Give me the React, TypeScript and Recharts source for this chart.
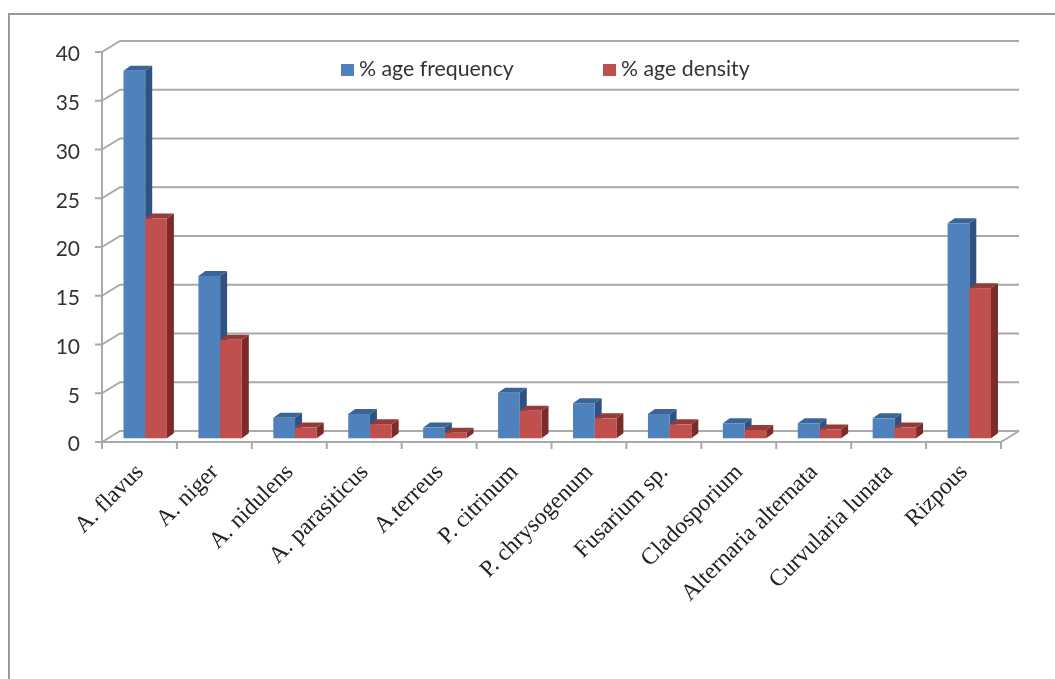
import React from "react";
import { BarChart, Bar, XAxis, YAxis, CartesianGrid, Legend } from "recharts";

const categories = ["A. flavus", "A. niger", "A. nidulens", "A. parasiticus", "A.terreus", "P. citrinum", "P. chrysogenum", "Fusarium sp.", "Cladosporium", "Alternaria alternata", "Curvularia lunata", "Rizpous"];
const frequency = [37.7, 16.65, 2.1, 2.5, 1.1, 4.68, 3.6, 2.5, 1.54, 1.54, 2.05, 22.05];
const density = [22.55, 10.1, 1.1, 1.45, 0.57, 2.83, 2.05, 1.43, 0.85, 0.9, 1.1, 15.4];
const yTicks = [0, 5, 10, 15, 20, 25, 30, 35, 40];

const data = categories.map((name, i) => ({ name, frequency: frequency[i], density: density[i] }));

// offset of the back wall from the front of the axis box
const WALL_X = 18;
const WALL_Y = 11;
// bars stand in the middle of the floor
const BAR_X = 5.5;
const BAR_Y = 3.7;
const DEPTH_X = 7;
const DEPTH_Y = 5;
const AXIS_COLOR = "#a9a9a9";

function makeBar(front: string, top: string, side: string) {
    return function Bar3D(props: any) {
        const x = props.x + BAR_X;
        const y = props.y - BAR_Y;
        const w = props.width;
        const h = props.height;
        return (
            <g>
                <polygon points={`${x},${y} ${x + DEPTH_X},${y - DEPTH_Y} ${x + w + DEPTH_X},${y - DEPTH_Y} ${x + w},${y}`} fill={top} />
                <polygon points={`${x + w},${y} ${x + w + DEPTH_X},${y - DEPTH_Y} ${x + w + DEPTH_X},${y + h - DEPTH_Y} ${x + w},${y + h}`} fill={side} />
                <rect x={x} y={y} width={w} height={h} fill={front} />
            </g>
        );
    };
}

function GridLine(props: any) {
    const { x1, x2, y1 } = props;
    return (
        <polyline
            points={`${x1},${y1} ${x1 + WALL_X},${y1 - WALL_Y} ${x2 + WALL_X},${y1 - WALL_Y}`}
            fill="none"
            stroke={AXIS_COLOR}
            strokeWidth={2}
        />
    );
}

// ticks sit between the categories, and the floor edge hangs off the last one
function CategoryTick(props: any) {
    const { x, y, payload, index, width } = props;
    const band = width / categories.length;
    const left = x - band / 2;
    const right = x + band / 2;
    const tx = x + 5;
    const ty = y + 31;
    return (
        <g>
            <line x1={left} y1={y} x2={left} y2={y + 7} stroke={AXIS_COLOR} strokeWidth={2} />
            {index === categories.length - 1 && (
                <g>
                    <line x1={right} y1={y} x2={right} y2={y + 7} stroke={AXIS_COLOR} strokeWidth={2} />
                    <line x1={right} y1={y} x2={right + WALL_X} y2={y - WALL_Y} stroke={AXIS_COLOR} strokeWidth={2} />
                </g>
            )}
            <text
                x={tx}
                y={ty}
                textAnchor="end"
                transform={`rotate(-45 ${tx} ${ty})`}
                fontFamily="Liberation Serif"
                fontSize={23.5}
                fill="#222"
            >
                {payload.value}
            </text>
        </g>
    );
}

function LegendBox(props: any) {
    const spots = [341, 603];
    return (
        <div style={{ position: "relative", height: 24, fontFamily: "Lato", fontSize: 21.3, color: "#333" }}>
            {props.payload.map((p: any, i: number) => (
                <div key={p.value} style={{ position: "absolute", left: spots[i], top: 0, whiteSpace: "nowrap", lineHeight: "24px" }}>
                    <span style={{ display: "inline-block", width: 13, height: 12, background: p.color, marginRight: 5 }} />
                    {p.value}
                </div>
            ))}
        </div>
    );
}

export default function App() {
    return (
        <div style={{ position: "absolute", left: 0, top: 0, width: 1055, height: 679, background: "#fff", overflow: "hidden" }}>
            <div style={{ position: "absolute", left: 8, top: 13, width: 1047, height: 666, borderLeft: "2px solid #9a9a9a", borderTop: "2px solid #9a9a9a", boxSizing: "border-box" }} />
            <div style={{ position: "absolute", left: 0, top: 0, filter: "blur(0.7px)" }}>
                <BarChart
                    width={1055}
                    height={679}
                    data={data}
                    margin={{ top: 52, right: 54, bottom: 0, left: 0 }}
                    barSize={21.7}
                    barGap={0}
                >
                    <CartesianGrid vertical={false} horizontal={(p: any) => <GridLine {...p} />} />
                    <YAxis
                        width={102}
                        domain={[0, 40]}
                        ticks={yTicks}
                        interval={0}
                        tick={{ fontFamily: "Lato", fontSize: 21, fill: "#333", dy: 2 }}
                        tickLine={{ stroke: AXIS_COLOR, strokeWidth: 2 }}
                        axisLine={{ stroke: AXIS_COLOR, strokeWidth: 2 }}
                        tickSize={7}
                        tickMargin={15}
                    />
                    <XAxis
                        dataKey="name"
                        interval={0}
                        tick={<CategoryTick />}
                        tickLine={false}
                        tickSize={0}
                        tickMargin={0}
                        axisLine={{ stroke: AXIS_COLOR, strokeWidth: 2 }}
                        height={237}
                    />
                    <Legend
                        layout="horizontal"
                        verticalAlign="middle"
                        itemSorter={null}
                        wrapperStyle={{ left: 0, top: 56, width: 1055 }}
                        content={<LegendBox />}
                    />
                    <Bar dataKey="frequency" name="% age frequency" fill="#4f81bd" shape={makeBar("#4f81bd", "#3a6598", "#2f5380")} isAnimationActive={false} />
                    <Bar dataKey="density" name="% age density" fill="#c0504d" shape={makeBar("#c0504d", "#953c39", "#7b2c2a")} isAnimationActive={false} />
                </BarChart>
            </div>
        </div>
    );
}
